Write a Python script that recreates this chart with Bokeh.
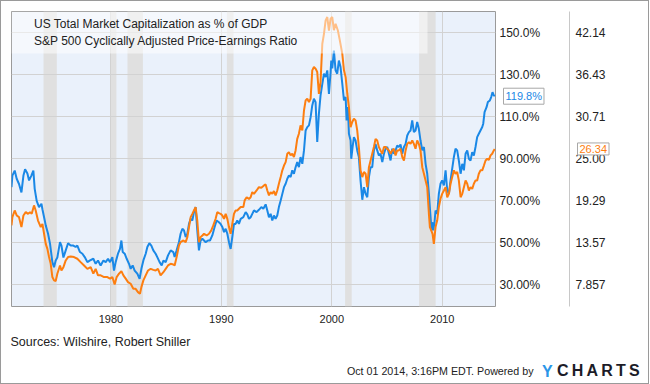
from bokeh.plotting import figure
from bokeh.layouts import column
from bokeh.models import (Range1d, LinearAxis, FixedTicker, BoxAnnotation, Label,
                          Legend, LegendItem)
from bokeh.embed import file_html
from bokeh.resources import INLINE

# ---------------- data ----------------
cap_year = [1971.00, 1971.08, 1971.29, 1971.47, 1971.68, 1971.90, 1972.08, 1972.23, 1972.44, 1972.59,
            1972.80, 1972.98, 1973.10, 1973.28, 1973.49, 1973.71, 1973.80, 1973.95, 1974.10, 1974.31,
            1974.49, 1974.70, 1974.85, 1975.00, 1975.15, 1975.39, 1975.52, 1975.70, 1975.91, 1976.12,
            1976.36, 1976.60, 1976.81, 1976.96, 1977.20, 1977.42, 1977.63, 1977.87, 1978.11, 1978.41,
            1978.62, 1978.83, 1979.07, 1979.32, 1979.53, 1979.74, 1979.92, 1980.13, 1980.28, 1980.43,
            1980.64, 1980.82, 1980.95, 1981.07, 1981.25, 1981.43, 1981.64, 1981.79, 1981.97, 1982.15,
            1982.39, 1982.60, 1982.76, 1982.94, 1983.15, 1983.30, 1983.48, 1983.66, 1983.84, 1984.05,
            1984.20, 1984.41, 1984.60, 1984.75, 1984.96, 1985.17, 1985.41, 1985.65, 1985.77, 1985.95,
            1986.16, 1986.31, 1986.47, 1986.62, 1986.77, 1986.92, 1987.07, 1987.22, 1987.37, 1987.52,
            1987.67, 1987.82, 1987.97, 1988.12, 1988.28, 1988.43, 1988.58, 1988.79, 1988.97, 1989.18,
            1989.39, 1989.57, 1989.78, 1989.93, 1990.09, 1990.24, 1990.39, 1990.54, 1990.69, 1990.84,
            1990.99, 1991.14, 1991.29, 1991.44, 1991.59, 1991.75, 1991.99, 1992.20, 1992.35, 1992.50,
            1992.65, 1992.80, 1992.95, 1993.19, 1993.40, 1993.62, 1993.80, 1994.01, 1994.16, 1994.31,
            1994.46, 1994.61, 1994.76, 1994.91, 1995.06, 1995.21, 1995.37, 1995.52, 1995.67, 1995.82,
            1995.97, 1996.12, 1996.27, 1996.42, 1996.57, 1996.72, 1996.87, 1997.02, 1997.17, 1997.33,
            1997.48, 1997.63, 1997.78, 1997.93, 1998.08, 1998.23, 1998.38, 1998.53, 1998.68, 1998.83,
            1998.98, 1999.14, 1999.29, 1999.44, 1999.59, 1999.74, 1999.89, 1999.95, 2000.04, 2000.19,
            2000.34, 2000.49, 2000.64, 2000.79, 2000.95, 2001.10, 2001.25, 2001.34, 2001.46, 2001.55,
            2001.70, 2001.76, 2001.88, 2002.00, 2002.15, 2002.30, 2002.45, 2002.60, 2002.76, 2002.91,
            2003.06, 2003.21, 2003.36, 2003.51, 2003.66, 2003.81, 2003.96, 2004.11, 2004.26, 2004.41,
            2004.57, 2004.72, 2004.87, 2005.02, 2005.17, 2005.32, 2005.47, 2005.62, 2005.77, 2005.92,
            2006.07, 2006.22, 2006.38, 2006.53, 2006.68, 2006.83, 2006.98, 2007.13, 2007.28, 2007.43,
            2007.58, 2007.73, 2007.88, 2008.03, 2008.19, 2008.34, 2008.49, 2008.64, 2008.79, 2008.94,
            2009.03, 2009.09, 2009.18, 2009.30, 2009.39, 2009.54, 2009.69, 2009.84, 2009.99, 2010.15,
            2010.30, 2010.45, 2010.60, 2010.75, 2010.90, 2011.05, 2011.20, 2011.35, 2011.50, 2011.66,
            2011.81, 2011.96, 2012.11, 2012.26, 2012.41, 2012.56, 2012.71, 2012.86, 2013.01, 2013.16,
            2013.31, 2013.46, 2013.62, 2013.71, 2013.83, 2014.01, 2014.13, 2014.31, 2014.43, 2014.55,
            2014.67, 2014.75]
cap_pct = [76.5, 82.0, 84.4, 80.5, 78.0, 74.0, 82.0, 85.0, 83.0, 79.7,
           82.0, 84.4, 75.7, 70.0, 67.0, 68.6, 66.0, 62.2, 58.3, 54.3,
           49.5, 40.8, 38.4, 41.6, 43.0, 50.3, 48.7, 43.0, 46.4, 49.8,
           48.7, 48.7, 48.0, 48.7, 45.6, 44.8, 43.2, 40.8, 41.6, 42.4,
           40.0, 41.6, 39.2, 41.6, 40.8, 42.4, 40.8, 43.2, 36.8, 40.8,
           44.8, 47.1, 51.1, 45.6, 44.8, 42.4, 40.0, 37.6, 39.2, 36.8,
           35.3, 32.9, 37.6, 41.6, 44.8, 48.0, 49.8, 48.7, 46.4, 44.8,
           43.2, 40.8, 39.2, 41.6, 40.8, 44.0, 46.4, 45.6, 43.2, 46.4,
           50.3, 54.3, 56.7, 55.9, 52.7, 54.3, 59.0, 61.4, 60.6, 64.6,
           67.0, 55.9, 46.4, 51.1, 51.9, 51.1, 50.3, 51.1, 51.1, 53.5,
           57.5, 60.6, 59.8, 59.0, 57.5, 55.1, 56.7, 54.3, 50.3, 47.1,
           52.7, 59.0, 59.0, 60.6, 59.0, 61.4, 62.2, 64.6, 63.5, 61.4,
           62.2, 63.8, 65.4, 64.6, 65.7, 67.0, 66.2, 68.3, 65.4, 62.2,
           63.8, 60.6, 63.0, 61.4, 63.0, 67.0, 70.2, 73.3, 76.5, 78.1,
           80.5, 82.1, 81.3, 84.5, 82.9, 86.0, 88.4, 86.0, 90.8, 87.6,
           94.0, 103.5, 105.1, 105.9, 109.8, 115.4, 118.6, 117.0, 98.0, 111.4,
           120.2, 125.7, 130.5, 128.9, 132.1, 120.9, 131.3, 136.8, 133.0, 141.5,
           132.1, 130.5, 136.8, 133.7, 125.7, 117.8, 119.4, 108.3, 114.6, 101.9,
           98.7, 90.0, 95.6, 100.3, 98.7, 94.0, 90.8, 79.7, 70.5, 76.5,
           73.3, 71.7, 81.3, 86.0, 86.0, 94.0, 97.1, 94.0, 91.6, 92.4,
           88.4, 92.4, 94.8, 95.6, 92.4, 89.2, 94.8, 92.4, 94.0, 96.3,
           95.6, 96.8, 92.4, 95.6, 97.1, 101.1, 102.7, 103.5, 108.3, 102.7,
           103.5, 107.5, 104.3, 98.7, 94.0, 95.6, 87.6, 82.9, 73.3, 62.2,
           55.9, 59.8, 55.9, 59.8, 65.4, 63.8, 73.3, 78.1, 79.7, 77.3,
           84.5, 74.9, 73.3, 79.7, 85.3, 90.8, 94.8, 94.0, 89.2, 82.9,
           87.6, 84.5, 92.4, 94.0, 90.0, 89.2, 93.2, 91.6, 95.6, 100.3,
           101.9, 103.5, 105.1, 106.7, 112.2, 114.6, 117.0, 117.8, 119.4, 121.7,
           120.2, 119.8]

cape_year = [1971.00, 1971.08, 1971.29, 1971.47, 1971.68, 1971.90, 1972.08, 1972.29, 1972.50, 1972.68,
             1972.83, 1973.04, 1973.19, 1973.40, 1973.65, 1973.80, 1973.95, 1974.10, 1974.25, 1974.40,
             1974.55, 1974.70, 1974.85, 1975.00, 1975.15, 1975.39, 1975.52, 1975.70, 1975.91, 1976.12,
             1976.36, 1976.66, 1976.96, 1977.26, 1977.57, 1977.87, 1978.17, 1978.41, 1978.62, 1978.83,
             1979.07, 1979.38, 1979.68, 1979.92, 1980.13, 1980.34, 1980.52, 1980.73, 1980.95, 1981.13,
             1981.34, 1981.55, 1981.79, 1982.03, 1982.24, 1982.45, 1982.63, 1982.76, 1982.94, 1983.15,
             1983.36, 1983.60, 1983.84, 1984.05, 1984.26, 1984.50, 1984.75, 1984.96, 1985.17, 1985.41,
             1985.65, 1985.77, 1985.95, 1986.16, 1986.31, 1986.56, 1986.77, 1986.92, 1987.07, 1987.22,
             1987.37, 1987.52, 1987.67, 1987.82, 1987.97, 1988.12, 1988.28, 1988.43, 1988.67, 1988.88,
             1989.09, 1989.27, 1989.48, 1989.63, 1989.78, 1989.93, 1990.09, 1990.24, 1990.39, 1990.54,
             1990.69, 1990.84, 1990.99, 1991.14, 1991.29, 1991.44, 1991.59, 1991.75, 1991.99, 1992.11,
             1992.29, 1992.50, 1992.65, 1992.80, 1992.95, 1993.19, 1993.40, 1993.62, 1993.86, 1994.01,
             1994.16, 1994.31, 1994.46, 1994.61, 1994.76, 1994.91, 1995.06, 1995.21, 1995.37, 1995.52,
             1995.67, 1995.82, 1995.97, 1996.12, 1996.27, 1996.42, 1996.57, 1996.72, 1996.87, 1997.02,
             1997.17, 1997.33, 1997.48, 1997.63, 1997.78, 1997.93, 1998.08, 1998.23, 1998.38, 1998.53,
             1998.68, 1998.83, 1998.98, 1999.14, 1999.29, 1999.44, 1999.59, 1999.74, 1999.89, 2000.04,
             2000.19, 2000.34, 2000.55, 2000.73, 2000.95, 2001.10, 2001.25, 2001.40, 2001.55, 2001.70,
             2001.85, 2002.00, 2002.15, 2002.30, 2002.45, 2002.60, 2002.76, 2002.91, 2003.06, 2003.21,
             2003.36, 2003.51, 2003.66, 2003.81, 2003.96, 2004.11, 2004.26, 2004.41, 2004.57, 2004.72,
             2004.87, 2005.02, 2005.17, 2005.32, 2005.47, 2005.62, 2005.77, 2005.92, 2006.07, 2006.22,
             2006.38, 2006.53, 2006.68, 2006.83, 2006.98, 2007.13, 2007.28, 2007.43, 2007.58, 2007.73,
             2007.88, 2008.03, 2008.19, 2008.34, 2008.49, 2008.64, 2008.79, 2008.88, 2009.00, 2009.12,
             2009.24, 2009.39, 2009.54, 2009.69, 2009.84, 2009.99, 2010.15, 2010.30, 2010.45, 2010.60,
             2010.75, 2010.90, 2011.05, 2011.20, 2011.35, 2011.50, 2011.66, 2011.81, 2011.96, 2012.11,
             2012.26, 2012.41, 2012.56, 2012.71, 2012.86, 2013.01, 2013.16, 2013.31, 2013.46, 2013.62,
             2013.77, 2013.92, 2014.07, 2014.22, 2014.37, 2014.52, 2014.67, 2014.75]
cape_vals = [15.94, 17.06, 17.97, 17.29, 17.06, 15.71, 17.29, 17.74, 17.51, 17.74,
             17.51, 18.66, 17.97, 16.60, 15.71, 16.14, 14.80, 13.43, 12.74, 11.63,
             10.71, 8.91, 8.46, 8.37, 9.37, 10.49, 9.80, 10.26, 11.17, 11.63,
             11.71, 11.63, 11.40, 10.94, 10.49, 10.03, 10.26, 9.37, 10.03, 9.14,
             9.14, 8.91, 8.91, 8.69, 8.91, 7.91, 8.91, 9.37, 9.71, 9.14,
             8.69, 8.23, 8.00, 7.31, 7.31, 6.86, 6.63, 7.54, 8.46, 9.14,
             9.80, 10.03, 9.89, 9.80, 10.03, 9.14, 9.57, 10.03, 10.49, 10.71,
             10.63, 10.49, 11.63, 13.20, 13.66, 13.89, 13.66, 14.34, 15.71, 17.06,
             17.51, 17.97, 18.43, 16.60, 13.66, 14.34, 14.57, 14.80, 14.57, 14.80,
             15.26, 15.94, 16.83, 17.74, 17.60, 17.51, 17.29, 16.83, 17.51, 16.83,
             15.71, 14.80, 16.14, 17.51, 17.97, 17.97, 18.20, 18.43, 18.43, 19.34,
             19.77, 19.54, 19.77, 20.46, 20.23, 20.69, 21.14, 21.06, 21.37, 21.51,
             20.69, 20.03, 20.46, 20.23, 20.60, 20.03, 20.69, 21.60, 22.51, 23.43,
             24.08, 24.54, 25.68, 25.91, 25.46, 25.68, 25.23, 26.14, 27.71, 28.40,
             29.54, 28.86, 31.57, 32.94, 33.17, 32.71, 33.17, 37.03, 37.48, 37.26,
             36.80, 33.83, 35.43, 40.65, 42.00, 43.83, 44.28, 42.45, 44.05, 44.28,
             42.50, 43.37, 42.45, 41.08, 39.28, 37.03, 36.11, 33.85, 32.03, 29.31,
             30.00, 30.46, 30.23, 28.86, 26.60, 23.43, 22.51, 23.20, 22.97, 21.14,
             23.86, 24.77, 25.68, 26.60, 27.71, 27.49, 26.60, 26.14, 25.68, 26.60,
             26.60, 26.37, 26.14, 25.68, 26.14, 26.37, 25.46, 26.14, 26.14, 26.37,
             25.23, 24.77, 26.14, 27.03, 27.26, 27.03, 27.49, 27.03, 26.37, 27.49,
             27.03, 26.14, 23.86, 22.97, 22.06, 21.14, 17.51, 15.71, 15.26, 14.80,
             13.43, 15.71, 16.60, 18.43, 19.57, 20.23, 20.69, 21.14, 19.77, 20.23,
             21.60, 22.51, 23.43, 22.97, 23.20, 22.06, 19.77, 20.23, 21.14, 22.06,
             21.60, 20.69, 21.14, 20.91, 21.60, 22.06, 22.06, 22.97, 23.43, 23.43,
             24.08, 24.77, 25.00, 24.86, 25.46, 25.68, 26.14, 26.34]

recession_start = [1973.9, 1980.0, 1981.5, 1990.5, 2001.2, 2007.9]
recession_end = [1975.1, 1980.5, 1982.9, 1991.1, 2001.8, 2009.4]

x_ticks = [1980, 1990, 2000, 2010]
pct_ticks = [30, 50, 70, 90, 110, 130, 150]
pct_labels = ["30.00%", "50.00%", "70.00%", "90.00%", "110.0%", "130.0%", "150.0%"]
cape_ticks = [7.857, 13.57, 19.29, 25.0, 30.71, 36.43, 42.14]
cape_labels = ["7.857", "13.57", "19.29", "25.00", "30.71", "36.43", "42.14"]

cap_name = "US Total Market Capitalization as % of GDP"
cape_name = "S&P 500 Cyclically Adjusted Price-Earnings Ratio"
source_text = "Sources: Wilshire, Robert Shiller"
stamp_text = "Oct 01 2014, 3:16PM EDT. Powered by"

# ---------------- style ----------------
BLUE = "#1a88e6"
ORANGE = "#fd7e10"
FONT = "Liberation Sans"
TXT = "#222222"
W = 647

X_START, X_END = 1971.0, 2014.82
PCT_START, PCT_END = 19.67, 160.14


def pct_to_cape(v):
    return cape_ticks[0] + (v - pct_ticks[0]) * (cape_ticks[-1] - cape_ticks[0]) / (pct_ticks[-1] - pct_ticks[0])


p = figure(width=W, height=362, x_range=Range1d(X_START, X_END),
           y_range=Range1d(PCT_START, PCT_END), output_backend="svg",
           toolbar_location=None, y_axis_location="right",
           min_border_left=10, min_border_top=10, min_border_right=153, min_border_bottom=57,
           background_fill_color="#eaf1fb", border_fill_color="white",
           outline_line_color="#9a9a9a")
p.extra_y_ranges = {"cape": Range1d(pct_to_cape(PCT_START), pct_to_cape(PCT_END))}

# grids
p.xgrid.ticker = FixedTicker(ticks=x_ticks)
p.ygrid.ticker = FixedTicker(ticks=pct_ticks)
for g in (p.xgrid[0], p.ygrid[0]):
    g.grid_line_color = "#d2d2d2"
    g.grid_line_width = 1

# x axis
xa = p.xaxis[0]
xa.ticker = FixedTicker(ticks=x_ticks)
xa.axis_line_color = None
xa.major_tick_out = 0
xa.major_tick_in = 0
xa.minor_tick_out = 0
xa.minor_tick_in = 0
xa.major_label_standoff = 8
xa.major_label_text_font = FONT
xa.major_label_text_font_size = "11px"
xa.major_label_text_color = TXT

# first right axis (percent of GDP)
ya = p.yaxis[0]
ya.ticker = FixedTicker(ticks=pct_ticks)
ya.major_label_overrides = dict(zip(pct_ticks, pct_labels))
ya.axis_line_color = None
ya.major_tick_out = 0
ya.major_tick_in = 0
ya.minor_tick_out = 0
ya.minor_tick_in = 0
ya.major_label_standoff = 4
ya.major_label_text_font = FONT
ya.major_label_text_font_size = "12px"
ya.major_label_text_color = TXT
ya.axis_label = " "
ya.axis_label_text_font_size = "1px"
ya.axis_label_standoff = 22

# second right axis (CAPE)
ya2 = LinearAxis(y_range_name="cape", ticker=FixedTicker(ticks=cape_ticks),
                 major_label_overrides=dict(zip(cape_ticks, cape_labels)),
                 axis_line_color="#c8c8c8", major_tick_out=0, major_tick_in=0,
                 minor_tick_out=0, minor_tick_in=0, major_label_standoff=6,
                 major_label_text_font=FONT, major_label_text_font_size="12px",
                 major_label_text_color=TXT)
p.add_layout(ya2, "right")

# recession bands
for a, b in zip(recession_start, recession_end):
    p.add_layout(BoxAnnotation(left=a, right=b, fill_color="#e0e0e0", fill_alpha=1.0,
                               line_alpha=0, level="image"))

# series
p.line(cap_year, cap_pct, line_color=BLUE, line_width=2)
p.line(cape_year, cape_vals, line_color=ORANGE, line_width=2, y_range_name="cape")

# legend background band
p.add_layout(BoxAnnotation(left=10, right=426, top=10, bottom=52,
                           left_units="canvas", right_units="canvas",
                           top_units="canvas", bottom_units="canvas",
                           fill_color="white", fill_alpha=0.5, line_alpha=0))

sq_blue = p.scatter([], [], marker="square", fill_color=BLUE, line_color=BLUE)
sq_orange = p.scatter([], [], marker="square", fill_color=ORANGE, line_color=ORANGE)
legend = Legend(items=[LegendItem(label=cap_name, renderers=[sq_blue]),
                       LegendItem(label=cape_name, renderers=[sq_orange])],
                location="top_left", margin=0, padding=4, spacing=0,
                glyph_width=19, glyph_height=17, label_height=17, label_standoff=0,
                label_text_font=FONT, label_text_font_size="12px", label_text_color=TXT,
                background_fill_alpha=0, border_line_alpha=0)
p.add_layout(legend)

# last-value tags (side panels keep them from being clipped to the frame)
p.add_layout(Label(x=X_END, y=cape_vals[-1], y_range_name="cape", x_offset=82,
                   text=f"{cape_vals[-1]:.2f}", text_font=FONT, text_font_size="11px",
                   text_color=ORANGE, text_baseline="middle", background_fill_color="white",
                   border_line_color="#a8a8a8", padding=2), "right")
p.add_layout(Label(x=X_END, y=cap_pct[-1], x_offset=8, text=f"{cap_pct[-1]:.1f}%",
                   text_font=FONT, text_font_size="11px", text_color=BLUE,
                   text_baseline="middle", background_fill_color="white",
                   border_line_color="#a8a8a8", padding=2), "below")

# source line
p.add_layout(Label(x=9, y=340, x_units="canvas", y_units="canvas", text=source_text,
                   text_font=FONT, text_font_size="12.5px", text_color=TXT,
                   text_baseline="middle"), "below")

# footer strip
foot = figure(width=W, height=20, x_range=Range1d(0, W), y_range=Range1d(0, 20),
              x_axis_type=None, y_axis_type=None, output_backend="svg",
              toolbar_location=None, min_border=0, outline_line_color=None,
              background_fill_color="white", border_fill_color="white")
foot.add_layout(Label(x=532, y=7, x_units="canvas", y_units="canvas", text=stamp_text,
                      text_font=FONT, text_font_size="10.7px", text_color=TXT,
                      text_align="right", text_baseline="middle"), "below")
foot.add_layout(Label(x=540.5, y=7.5, x_units="canvas", y_units="canvas", text="Y",
                      text_font=FONT, text_font_size="16px", text_font_style="bold",
                      text_color="#2a96e8", text_baseline="middle"), "right")
foot.add_layout(Label(x=555.5, y=7, x_units="canvas", y_units="canvas",
                      text="C\u2009H\u2009A\u2009R\u2009T\u2009S",
                      text_font=FONT, text_font_size="16px", text_font_style="bold",
                      text_color="#1c1c28", text_baseline="middle"), "right")

page = column(p, foot, spacing=0, styles={"border": "1px solid #9a9a9a"})

open("out.html", "w").write(file_html(page, INLINE))
